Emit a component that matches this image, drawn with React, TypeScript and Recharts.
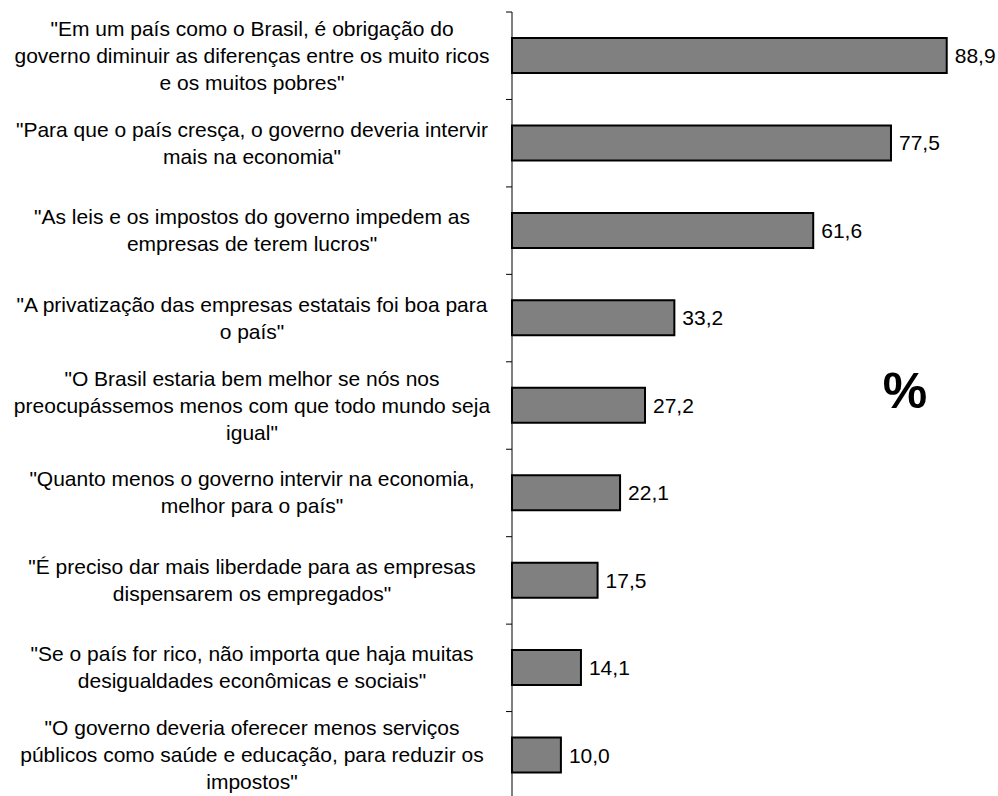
import React from 'react';
import { BarChart, Bar, XAxis, YAxis, LabelList } from 'recharts';

const STATEMENTS: string[][] = [
  ['"Em um país como o Brasil, é obrigação do', 'governo diminuir as diferenças entre os muito ricos', 'e os muitos pobres"'],
  ['"Para que o país cresça, o governo deveria intervir', 'mais na economia"'],
  ['"As leis e os impostos do governo impedem as', 'empresas de terem lucros"'],
  ['"A privatização das empresas estatais foi boa para', 'o país"'],
  ['"O Brasil estaria bem melhor se nós nos', 'preocupássemos menos com que todo mundo seja', 'igual"'],
  ['"Quanto menos o governo intervir na economia,', 'melhor para o país"'],
  ['"É preciso dar mais liberdade para as empresas', 'dispensarem os empregados"'],
  ['"Se o país for rico, não importa que haja muitas', 'desigualdades econômicas e sociais"'],
  ['"O governo deveria oferecer menos serviços', 'públicos como saúde e educação, para reduzir os', 'impostos"'],
];

const PERCENTS = [88.9, 77.5, 61.6, 33.2, 27.2, 22.1, 17.5, 14.1, 10.0];

const data = STATEMENTS.map((lines, i) => ({ key: `s${i}`, value: PERCENTS[i] }));

const FONT = '"Liberation Sans", Arial, sans-serif';
const AXIS_X = 512;
const LABEL_CX = 252;
const LINE_GAP = 27;

const StatementTick = (props: any) => {
  const { y, index } = props;
  const lines = STATEMENTS[index] || [];
  const band = 87.4;
  const first = y - ((lines.length - 1) * LINE_GAP) / 2 + 7;
  const top = y - band / 2;
  return (
    <g>
      <line x1={AXIS_X - 6} x2={AXIS_X} y1={top} y2={top} stroke="#000" strokeWidth={1} />
      <text textAnchor="middle" fontSize={21} fontFamily={FONT} fill="#000">
        {lines.map((l, i) => (
          <tspan key={i} x={LABEL_CX} y={first + i * LINE_GAP}>
            {l}
          </tspan>
        ))}
      </text>
    </g>
  );
};

export default function App() {
  return (
    <div style={{ position: 'absolute', left: 0, top: 0, width: 998, height: 796, overflow: 'hidden', background: '#fff' }}>
      <BarChart
        width={1002}
        height={800}
        data={data}
        layout="vertical"
        margin={{ top: 12, right: 1, bottom: 1, left: 0 }}
        barSize={35}
      >
        <XAxis type="number" domain={[0, 100]} hide />
        <YAxis
          type="category"
          dataKey="key"
          width={AXIS_X}
          tickLine={false}
          axisLine={{ stroke: '#000', strokeWidth: 1 }}
          tick={<StatementTick />}
          interval={0}
        />
        <Bar dataKey="value" fill="#808080" stroke="#000" strokeWidth={2} isAnimationActive={false}>
          <LabelList
            dataKey="value"
            position="right"
            offset={8}
            fontSize={21}
            fontFamily={FONT}
            fill="#000"
            formatter={(v: any) => Number(v).toFixed(1).replace('.', ',')}
          />
        </Bar>
      </BarChart>
      <div
        style={{
          position: 'absolute',
          left: 855,
          top: 366,
          width: 100,
          textAlign: 'center',
          fontFamily: FONT,
          fontWeight: 'bold',
          fontSize: 50,
          lineHeight: '50px',
        }}
      >
        %
      </div>
    </div>
  );
}
